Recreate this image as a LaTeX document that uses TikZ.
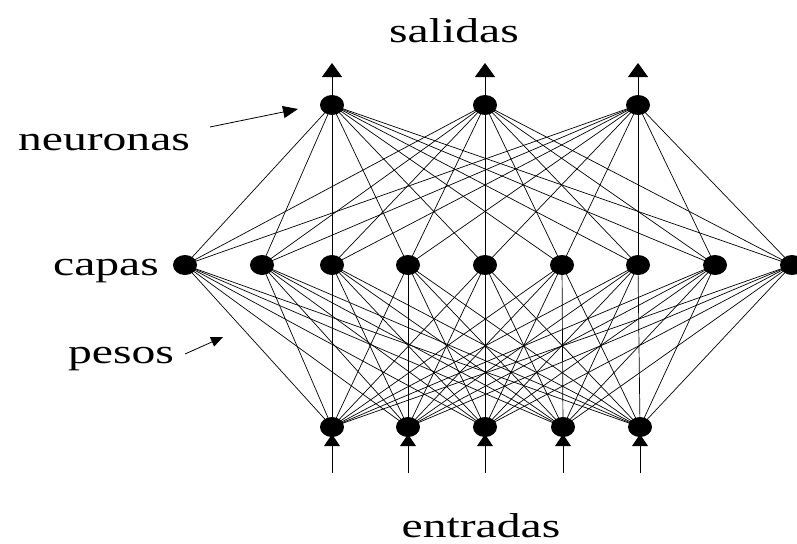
\documentclass[tikz,border=0pt]{standalone}
\usepackage{fontspec}
\setmainfont{Liberation Serif}
\usetikzlibrary{arrows.meta, shapes.geometric}
\newcommand{\widetext}[1]{\scalebox{1.38}[1]{#1}}
\tikzset{
    neuron/.style={ellipse, fill=black, inner sep=0pt, minimum width=24pt, minimum height=20pt},
    weight/.style={line width=0.7pt},
    label/.style={font=\fontsize{34.5}{38}\selectfont, anchor=base, inner sep=0pt}
}

\begin{document}
\begin{tikzpicture}[x=1pt, y=-1pt]
                \useasboundingbox (0,0) rectangle (797,543);

                % the three layers
                \foreach \i/\x in {1/332, 2/485, 3/638}
                    \node[neuron] (t\i) at (\x,105) {};
                \foreach \j/\x in {1/185, 2/262, 3/332, 4/408, 5/485, 6/562, 7/638, 8/715, 9/792}
                    \node[neuron] (m\j) at (\x,265) {};
                \foreach \k/\x in {1/332, 2/408, 3/485, 4/563, 5/640}
                    \node[neuron] (b\k) at (\x,427) {};

                % the weights
                \foreach \i in {1,...,3}
                    \foreach \j in {1,...,9}
                        \draw[weight] (t\i.center) -- (m\j.center);
                \foreach \j in {1,...,9}
                    \foreach \k in {1,...,5}
                        \draw[weight] (m\j.center) -- (b\k.center);

                % outputs
                \foreach \i/\x in {1/332, 2/485, 3/638} {
                    \coordinate (out\i) at (\x,63);
                    \draw[line width=1pt, -{Triangle[width=20pt, length=14pt]}] (t\i) -- (out\i);
                }

                % inputs
                \foreach \k/\x in {1/332, 2/408, 3/485, 4/563, 5/640} {
                    \coordinate (in\k) at (\x,473);
                    \draw[line width=1pt, -{Triangle[width=16pt, length=12pt]}] (in\k) -- ([yshift=3pt]b\k.south);
                }

                % texts
                \node[label] (salidas) at (454,42) {\widetext{salidas}};
                \node[label] (entradas) at (481,537) {\widetext{entradas}};
                \node[label] (neuronas) at (104,150) {\widetext{neuronas}};
                \node[label] (capas) at (106,275) {\widetext{capas}};
                \node[label] (pesos) at (121,363) {\widetext{pesos}};

                \coordinate (neuronastip) at (298,109);
                \coordinate (neuronastail) at (210,127);
                \draw[line width=0.8pt, -{Triangle[width=12pt, length=15pt]}] (neuronastail) -- (neuronastip);
                \coordinate (pesostip) at (223,337);
                \coordinate (pesostail) at (185,354);
                \draw[line width=0.8pt, -{Triangle[width=10pt, length=12pt]}] (pesostail) -- (pesostip);

            \end{tikzpicture}
\end{document}
